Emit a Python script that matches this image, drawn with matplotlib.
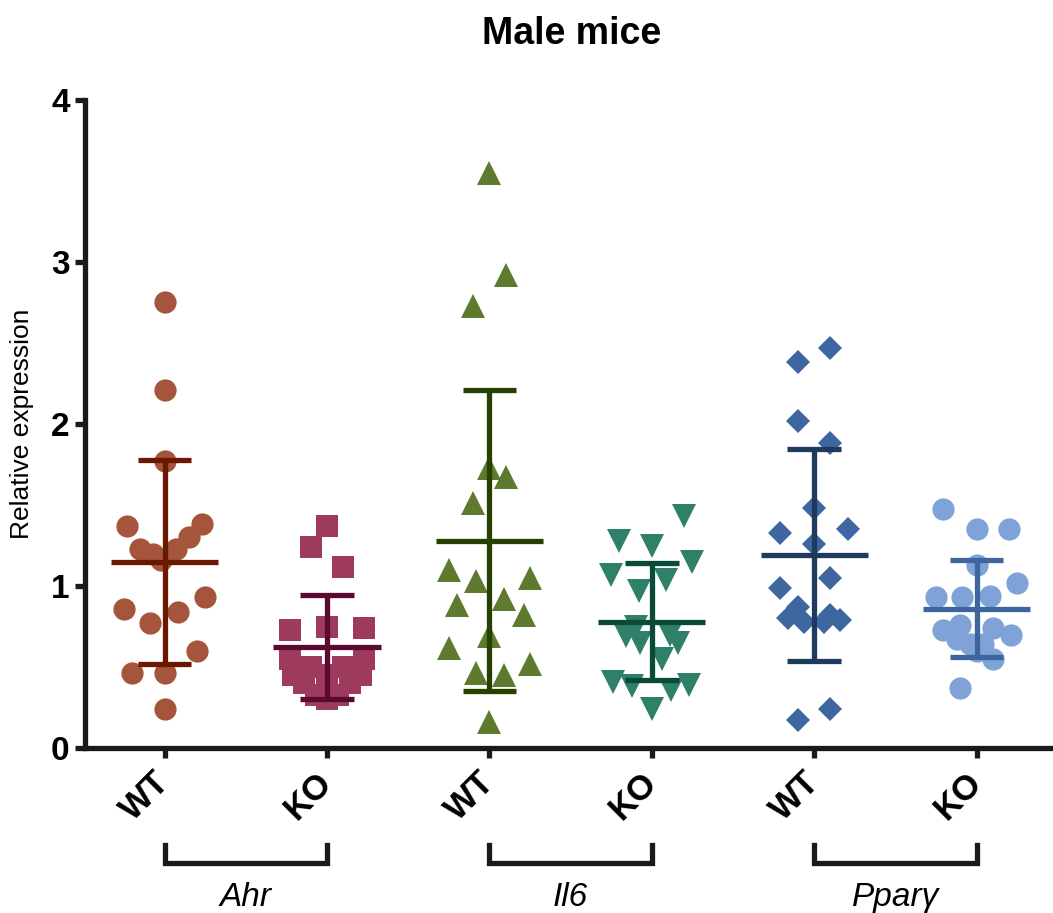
import numpy as np
import matplotlib
matplotlib.use('Agg')
import matplotlib.pyplot as plt
import matplotlib.transforms as mtransforms

plt.rcParams['font.family'] = ['Liberation Sans', 'DejaVu Sans']

# Groups along the x axis
tick_labels = ['WT', 'KO', 'WT', 'KO', 'WT', 'KO']
genes = ['Ahr', 'Il6', 'Ppar\u03b3']

# Relative expression per group
ahr_wt = [2.75, 2.21, 1.77, 1.37, 1.38, 1.30, 1.23, 1.20, 1.16, 1.23,
          0.93, 0.86, 0.84, 0.77, 0.60, 0.46, 0.46, 0.24]
ahr_ko = [1.37, 1.24, 1.12, 0.73, 0.75, 0.74, 0.55, 0.50, 0.50, 0.55,
          0.45, 0.45, 0.40, 0.40, 0.33, 0.33, 0.30, 0.45]
il6_wt = [3.55, 2.92, 2.73, 1.73, 1.67, 1.51, 1.10, 1.03, 1.05, 0.88,
          0.92, 0.82, 0.69, 0.62, 0.52, 0.46, 0.45, 0.16]
il6_ko = [1.43, 1.28, 1.25, 1.15, 1.07, 1.04, 0.97, 0.75, 0.69, 0.65,
          0.70, 0.65, 0.55, 0.41, 0.38, 0.36, 0.39, 0.24]
ppar_wt = [2.47, 2.38, 2.02, 1.88, 1.48, 1.35, 1.33, 1.26, 1.05, 0.99,
           0.87, 0.80, 0.78, 0.78, 0.82, 0.79, 0.17, 0.24]
ppar_ko = [1.475, 1.35, 1.35, 1.13, 1.02, 0.93, 0.93, 0.94, 0.73, 0.76,
           0.74, 0.70, 0.67, 0.64, 0.64, 0.55, 0.37, 0.60]

# Horizontal scatter of each point (fraction of group spacing)
ahr_wt_dx = [0, 0, 0, -0.23, 0.23, 0.15, -0.15, -0.07, -0.02, 0.07,
             0.25, -0.25, 0.08, -0.09, 0.20, -0.20, 0, 0]
ahr_ko_dx = [0, -0.10, 0.10, -0.23, 0, 0.23, -0.23, -0.10, 0.10, 0.23,
             -0.21, 0.21, -0.14, 0.14, -0.07, 0.07, 0, 0]
il6_wt_dx = [0, 0.10, -0.10, 0, 0.10, -0.10, -0.25, -0.08, 0.25, -0.20,
             0.09, 0.21, 0, -0.25, 0.25, -0.08, 0.09, 0]
il6_ko_dx = [0.20, -0.20, 0, 0.25, -0.25, 0.09, -0.08, -0.10, -0.16, -0.07,
             0.11, 0.16, 0.06, -0.24, -0.12, 0.12, 0.23, 0]
ppar_wt_dx = [0.10, -0.10, -0.10, 0.10, 0, 0.21, -0.21, 0, 0.10, -0.21,
              -0.10, -0.16, -0.06, 0.06, 0.10, 0.16, -0.10, 0.10]
ppar_ko_dx = [-0.21, 0, 0.20, 0, 0.25, -0.25, -0.09, 0.08, -0.21, -0.10,
              0.10, 0.21, -0.12, -0.04, 0.04, 0.10, -0.10, 0]

# Mean and SD shown by the bars
means = [1.15, 0.625, 1.28, 0.78, 1.19, 0.86]
sds = [0.63, 0.32, 0.93, 0.36, 0.655, 0.30]

values = [ahr_wt, ahr_ko, il6_wt, il6_ko, ppar_wt, ppar_ko]
offsets = [ahr_wt_dx, ahr_ko_dx, il6_wt_dx, il6_ko_dx, ppar_wt_dx, ppar_ko_dx]

markers = ['o', 's', '^', 'v', 'D', 'o']
sizes = [16, 16, 17, 17, 12, 16]
point_colors = ['#A4553C', '#9E3A5E', '#5E7A2E', '#2E8068', '#3E66A0', '#7FA3D6']
line_colors = ['#6B1800', '#5A0A2E', '#254000', '#0B4A38', '#1F3A5F', '#3F65A0']

fig = plt.figure(figsize=(10.53, 9.13), dpi=100)
ax = fig.add_axes([0.0807, 0.1807, 0.9193, 0.7098])

for i in range(len(values)):
    x = i + np.array(offsets[i])
    ax.plot(x, values[i], linestyle='none', marker=markers[i],
            markersize=sizes[i], color=point_colors[i], markeredgewidth=0,
            clip_on=False, zorder=2)

for i in range(len(values)):
    c = line_colors[i]
    m, s = means[i], sds[i]
    ax.plot([i - 0.33, i + 0.33], [m, m], color=c, lw=3.8, zorder=3,
            solid_capstyle='butt')
    ax.plot([i, i], [m - s, m + s], color=c, lw=3.8, zorder=3,
            solid_capstyle='butt')
    for y in (m - s, m + s):
        ax.plot([i - 0.165, i + 0.165], [y, y], color=c, lw=3.8, zorder=3,
                solid_capstyle='butt')

ax.set_xlim(-0.49, 5.47)
ax.set_ylim(0, 4)
ax.set_yticks([0, 1, 2, 3, 4])
ax.set_xticks(range(6))
ax.set_xticklabels(tick_labels, rotation=45, ha='right', va='center',
                   rotation_mode='anchor', fontsize=25, fontweight='bold')
for lbl in ax.get_yticklabels():
    lbl.set_fontsize(24)
    lbl.set_fontweight('bold')

for side in ['top', 'right']:
    ax.spines[side].set_visible(False)
for side in ['left', 'bottom']:
    ax.spines[side].set_linewidth(3.8)
    ax.spines[side].set_color('#1a1a1a')
ax.tick_params(axis='both', width=3.8, length=7, color='#1a1a1a', pad=4)
ax.tick_params(axis='x', pad=14)

ax.set_ylabel('Relative expression', fontsize=19, labelpad=12)

# Brackets under each gene pair
trans = mtransforms.blended_transform_factory(ax.transData, ax.transAxes)
for g, name in enumerate(genes):
    x0, x1 = 2 * g, 2 * g + 1
    ax.plot([x0, x0, x1, x1], [-0.150, -0.177, -0.177, -0.150], color='#1a1a1a',
            lw=3.8, transform=trans, clip_on=False, solid_joinstyle='miter')
    ax.text((x0 + x1) / 2, -0.23, name, transform=trans, ha='center',
            va='center', fontsize=24, style='italic')

fig.text(0.543, 0.963, 'Male mice', ha='center', va='center', fontsize=27,
         fontweight='bold')

fig.savefig('out.png', dpi=100)
